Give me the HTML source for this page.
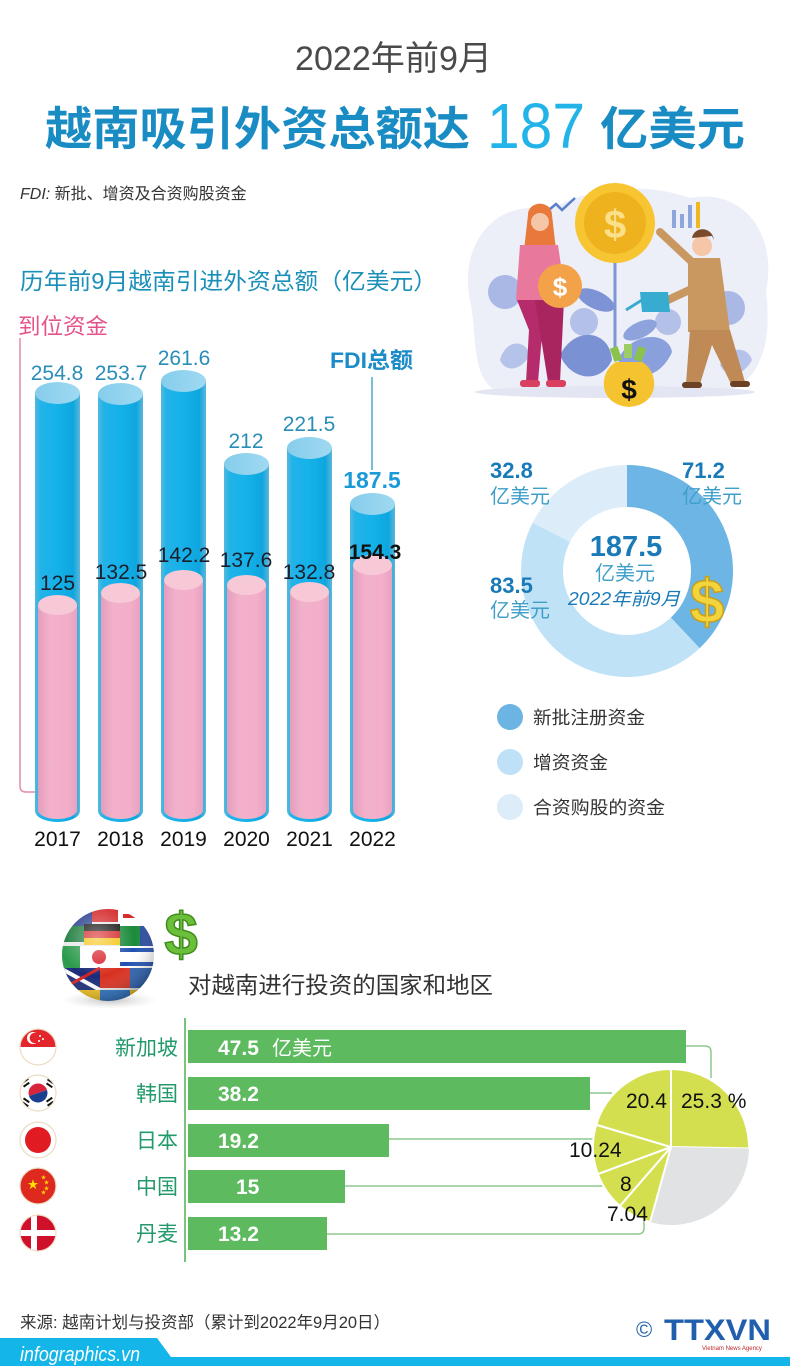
<!DOCTYPE html>
<html><head><meta charset="utf-8"><style>
html,body{margin:0;padding:0;background:#fff;}
svg{display:block;}
text{font-family:"Liberation Sans","Noto Sans CJK SC",sans-serif;}
.cn{font-family:"Liberation Sans","Noto Sans CJK SC",sans-serif;}
.nar{font-family:"Liberation Sans Narrow","Liberation Sans","Noto Sans CJK SC",sans-serif;}
</style></head><body>
<svg width="790" height="1366" viewBox="0 0 790 1366" xmlns="http://www.w3.org/2000/svg">
<defs>
<linearGradient id="gb" x1="0" x2="1" y1="0" y2="0">
<stop offset="0" stop-color="#54b9de"/><stop offset="0.12" stop-color="#22b3e8"/><stop offset="0.5" stop-color="#14b2ea"/><stop offset="0.85" stop-color="#0ea6de"/><stop offset="1" stop-color="#5cb6da"/>
</linearGradient>
<linearGradient id="gbt" x1="0" x2="1"><stop offset="0" stop-color="#86cdec"/><stop offset="1" stop-color="#9fd9f1"/></linearGradient>
<linearGradient id="gp" x1="0" x2="1"><stop offset="0" stop-color="#e39dbd"/><stop offset="0.3" stop-color="#f2b1ca"/><stop offset="0.75" stop-color="#f3aeca"/><stop offset="1" stop-color="#e8a2c1"/></linearGradient>
<radialGradient id="globeSh" cx="0.38" cy="0.32" r="0.75"><stop offset="0" stop-color="#fff" stop-opacity="0.45"/><stop offset="0.55" stop-color="#fff" stop-opacity="0"/><stop offset="1" stop-color="#000" stop-opacity="0.35"/></radialGradient>
<radialGradient id="shadow" cx="0.5" cy="0.5" r="0.5"><stop offset="0" stop-color="#999" stop-opacity="0.6"/><stop offset="1" stop-color="#ccc" stop-opacity="0"/></radialGradient>
<clipPath id="cg"><circle cx="108" cy="955" r="46"/></clipPath>
<clipPath id="f1"><circle cx="38" cy="1047" r="18"/></clipPath>
<clipPath id="f2"><circle cx="38" cy="1093" r="18"/></clipPath>
<clipPath id="f3"><circle cx="38" cy="1140" r="18"/></clipPath>
<clipPath id="f4"><circle cx="38" cy="1186" r="18"/></clipPath>
<clipPath id="f5"><circle cx="38" cy="1233" r="18"/></clipPath>
</defs>

<rect width="790" height="1366" fill="#fff"/>

<!-- Titles -->
<text x="295" y="70" font-size="34" fill="#4a4a4a" textLength="197" lengthAdjust="spacingAndGlyphs">2022年前9月</text>
<text x="45" y="145" font-size="46" font-weight="bold" fill="#1a8cc4" textLength="425" lengthAdjust="spacingAndGlyphs">越南吸引外资总额达</text>
<text x="487" y="148" font-size="64" fill="#22b4e8" textLength="98" lengthAdjust="spacingAndGlyphs">187</text>
<text x="600" y="145" font-size="46" font-weight="bold" fill="#1a8cc4" textLength="145" lengthAdjust="spacingAndGlyphs">亿美元</text>
<text x="20" y="199" font-size="16" fill="#333"><tspan font-style="italic">FDI:</tspan> 新批、增资及合资购股资金</text>

<!-- Illustration -->
<g>
<path d="M470,300 C458,240 500,198 548,210 C585,190 640,180 690,198 C742,188 778,232 766,292 C772,342 762,382 722,394 L502,394 C470,382 478,340 470,300 Z" fill="#eceef8"/>
<ellipse cx="615" cy="392" rx="140" ry="6" fill="#e3e6f2"/>
<circle cx="505" cy="292" r="17" fill="#a9b8e4"/>
<circle cx="584" cy="322" r="14" fill="#b3c0e8"/>
<circle cx="668" cy="322" r="13" fill="#b3c0e8"/>
<circle cx="728" cy="308" r="17" fill="#a9b8e4"/>
<path d="M560,355 C575,325 610,330 612,360 C600,385 570,380 560,355 Z" fill="#7a91d4"/>
<path d="M618,360 C630,332 668,330 672,352 C660,380 630,384 618,360 Z" fill="#8aa0dc"/>
<ellipse cx="596" cy="300" rx="20" ry="9" transform="rotate(25 596 300)" fill="#7d93d5"/>
<ellipse cx="640" cy="330" rx="18" ry="8" transform="rotate(-25 640 330)" fill="#8ea2dc"/>
<path d="M500,360 C505,340 525,338 530,355 C520,372 505,372 500,360 Z" fill="#b5c2ea"/>
<path d="M720,365 C728,345 748,346 752,360 C742,378 726,378 720,365 Z" fill="#b5c2ea"/>
<line x1="615" y1="262" x2="615" y2="360" stroke="#7f96d6" stroke-width="3"/>
<circle cx="615" cy="223" r="40" fill="#f7c531"/>
<circle cx="615" cy="223" r="31" fill="#efb21f"/>
<text x="615" y="238" font-size="40" font-weight="bold" fill="#fbe08a" text-anchor="middle">$</text>
<polyline points="544,214 556,204 562,210 575,198" fill="none" stroke="#5b7fc8" stroke-width="2.5"/>
<rect x="672" y="210" width="4" height="18" fill="#8ea6dc"/><rect x="680" y="214" width="4" height="14" fill="#8ea6dc"/><rect x="688" y="205" width="4" height="23" fill="#8ea6dc"/><rect x="696" y="202" width="4" height="26" fill="#f0b820"/>
<!-- woman -->
<path d="M528,215 C528,200 552,200 552,215 L556,250 L524,250 Z" fill="#e8793a"/>
<circle cx="540" cy="222" r="9" fill="#f6c6a8"/>
<path d="M520,245 L558,245 L566,300 L516,300 Z" fill="#e9789d"/>
<path d="M517,300 L545,300 L538,382 L526,382 L529,330 Z" fill="#b52b6b"/>
<path d="M535,300 L564,300 L560,382 L548,382 Z" fill="#a8255f"/>
<rect x="520" y="380" width="20" height="7" rx="3" fill="#d94060"/>
<rect x="546" y="380" width="20" height="7" rx="3" fill="#d94060"/>
<circle cx="560" cy="286" r="22" fill="#f4a24a"/>
<text x="560" y="296" font-size="26" font-weight="bold" fill="#fff" text-anchor="middle">$</text>
<!-- man -->
<circle cx="702" cy="246" r="10" fill="#f6c6a8"/>
<path d="M692,238 C694,226 712,226 714,240 L712,236 Z" fill="#7a4a2a"/>
<path d="M688,258 L720,258 L730,332 L688,332 Z" fill="#c99760"/>
<line x1="692" y1="262" x2="660" y2="232" stroke="#c99760" stroke-width="8" stroke-linecap="round"/>
<line x1="700" y1="285" x2="668" y2="300" stroke="#c99760" stroke-width="8" stroke-linecap="round"/>
<path d="M690,330 L730,330 L745,382 L732,386 L712,345 L700,384 L686,384 Z" fill="#bf8a55"/>
<rect x="682" y="382" width="20" height="6" rx="3" fill="#6b4226"/>
<rect x="730" y="381" width="20" height="6" rx="3" fill="#6b4226"/>
<path d="M640,292 L668,292 L670,312 L642,312 Z" fill="#38acd0"/>
<line x1="642" y1="300" x2="626" y2="310" stroke="#38acd0" stroke-width="3"/>
<!-- money bag -->
<rect x="612" y="347" width="8" height="14" fill="#8bc34a" transform="rotate(-20 616 354)"/>
<rect x="624" y="344" width="8" height="14" fill="#9ccc65"/>
<rect x="636" y="347" width="8" height="14" fill="#8bc34a" transform="rotate(20 640 354)"/>
<path d="M616,362 L642,362 C660,372 660,405 629,407 C598,405 598,372 616,362 Z" fill="#f5c330"/>
<text x="629" y="399" font-size="28" font-weight="bold" fill="#111" text-anchor="middle">$</text>
</g>

<!-- Bar chart title -->
<text x="20" y="289" font-size="23" fill="#1a8fb8" textLength="417" lengthAdjust="spacingAndGlyphs">历年前9月越南引进外资总额（亿美元）</text>
<text x="18" y="334" font-size="22" fill="#e6528a" textLength="90" lengthAdjust="spacingAndGlyphs">到位资金</text>
<path d="M20,338 L20,786 Q20,792 26,792 L57,792" fill="none" stroke="#e48aae" stroke-width="1.5"/>
<text x="330" y="368" font-size="22" font-weight="bold" fill="#1c8cc8" textLength="83" lengthAdjust="spacingAndGlyphs">FDI总额</text>
<line x1="372" y1="377" x2="372" y2="470" stroke="#4aa9c8" stroke-width="1.5"/>

<!-- Cylinders -->
<g>
<!-- 2017 -->
<rect x="35" y="393" width="45" height="418" fill="url(#gb)"/><ellipse cx="57.5" cy="811" rx="22.5" ry="11" fill="url(#gb)"/><ellipse cx="57.5" cy="393" rx="22.5" ry="11" fill="url(#gbt)"/>
<rect x="38" y="605" width="39" height="205" fill="url(#gp)"/><ellipse cx="57.5" cy="810" rx="19.5" ry="9" fill="url(#gp)"/><ellipse cx="57.5" cy="605" rx="19.5" ry="10" fill="#f7c8d6"/>
<!-- 2018 -->
<rect x="98" y="394" width="45" height="417" fill="url(#gb)"/><ellipse cx="120.5" cy="811" rx="22.5" ry="11" fill="url(#gb)"/><ellipse cx="120.5" cy="394" rx="22.5" ry="11" fill="url(#gbt)"/>
<rect x="101" y="593" width="39" height="217" fill="url(#gp)"/><ellipse cx="120.5" cy="810" rx="19.5" ry="9" fill="url(#gp)"/><ellipse cx="120.5" cy="593" rx="19.5" ry="10" fill="#f7c8d6"/>
<!-- 2019 -->
<rect x="161" y="381" width="45" height="430" fill="url(#gb)"/><ellipse cx="183.5" cy="811" rx="22.5" ry="11" fill="url(#gb)"/><ellipse cx="183.5" cy="381" rx="22.5" ry="11" fill="url(#gbt)"/>
<rect x="164" y="580" width="39" height="230" fill="url(#gp)"/><ellipse cx="183.5" cy="810" rx="19.5" ry="9" fill="url(#gp)"/><ellipse cx="183.5" cy="580" rx="19.5" ry="10" fill="#f7c8d6"/>
<!-- 2020 -->
<rect x="224" y="464" width="45" height="347" fill="url(#gb)"/><ellipse cx="246.5" cy="811" rx="22.5" ry="11" fill="url(#gb)"/><ellipse cx="246.5" cy="464" rx="22.5" ry="11" fill="url(#gbt)"/>
<rect x="227" y="585" width="39" height="225" fill="url(#gp)"/><ellipse cx="246.5" cy="810" rx="19.5" ry="9" fill="url(#gp)"/><ellipse cx="246.5" cy="585" rx="19.5" ry="10" fill="#f7c8d6"/>
<!-- 2021 -->
<rect x="287" y="448" width="45" height="363" fill="url(#gb)"/><ellipse cx="309.5" cy="811" rx="22.5" ry="11" fill="url(#gb)"/><ellipse cx="309.5" cy="448" rx="22.5" ry="11" fill="url(#gbt)"/>
<rect x="290" y="592" width="39" height="218" fill="url(#gp)"/><ellipse cx="309.5" cy="810" rx="19.5" ry="9" fill="url(#gp)"/><ellipse cx="309.5" cy="592" rx="19.5" ry="10" fill="#f7c8d6"/>
<!-- 2022 -->
<rect x="350" y="504" width="45" height="307" fill="url(#gb)"/><ellipse cx="372.5" cy="811" rx="22.5" ry="11" fill="url(#gb)"/><ellipse cx="372.5" cy="504" rx="22.5" ry="11" fill="url(#gbt)"/>
<rect x="353" y="565" width="39" height="245" fill="url(#gp)"/><ellipse cx="372.5" cy="810" rx="19.5" ry="9" fill="url(#gp)"/><ellipse cx="372.5" cy="565" rx="19.5" ry="10" fill="#f7c8d6"/>
</g>
<g font-size="21" fill="#2a8db8" text-anchor="middle">
<text x="57" y="380">254.8</text>
<text x="121" y="380">253.7</text>
<text x="184" y="365">261.6</text>
<text x="246" y="448">212</text>
<text x="309" y="431">221.5</text>
<text x="372" y="488" font-size="23" font-weight="bold" fill="#1b9ad8">187.5</text>
</g>
<g font-size="21" fill="#1d1d2a" text-anchor="middle">
<text x="57.5" y="590">125</text>
<text x="121" y="579">132.5</text>
<text x="184" y="562">142.2</text>
<text x="246" y="567">137.6</text>
<text x="309" y="579">132.8</text>
<text x="375" y="559" font-weight="bold" fill="#111">154.3</text>
</g>
<g font-size="21" fill="#111" text-anchor="middle">
<text x="57.5" y="846">2017</text><text x="120.5" y="846">2018</text><text x="183.5" y="846">2019</text><text x="246.5" y="846">2020</text><text x="309.5" y="846">2021</text><text x="372.5" y="846">2022</text>
</g>

<!-- Donut -->
<g transform="rotate(-90 627 571)" fill="none" stroke-width="42">
<circle cx="627" cy="571" r="85" stroke="#6db5e5" stroke-dasharray="202.8 331.27"/>
<circle cx="627" cy="571" r="85" stroke="#bfe2f7" stroke-dasharray="237.8 296.27" stroke-dashoffset="-202.8"/>
<circle cx="627" cy="571" r="85" stroke="#dcedf9" stroke-dasharray="93.47 440.6" stroke-dashoffset="-440.6"/>
</g>
<text x="490" y="478" font-size="22" font-weight="bold" fill="#1a7ab8">32.8</text>
<text x="490" y="503" font-size="20" fill="#3f9fc8">亿美元</text>
<text x="682" y="478" font-size="22" font-weight="bold" fill="#1a7ab8">71.2</text>
<text x="682" y="503" font-size="20" fill="#3f9fc8">亿美元</text>
<text x="490" y="593" font-size="22" font-weight="bold" fill="#1a7ab8">83.5</text>
<text x="490" y="617" font-size="20" fill="#3f9fc8">亿美元</text>
<text x="626" y="556" font-size="29" font-weight="bold" fill="#1a7ab8" text-anchor="middle">187.5</text>
<text x="625" y="580" font-size="20" fill="#3f9fc8" text-anchor="middle">亿美元</text>
<text x="624" y="605" font-size="18" font-style="italic" fill="#1a7ab8" text-anchor="middle" textLength="112" lengthAdjust="spacingAndGlyphs">2022年前9月</text>
<text x="707" y="623" font-size="62" font-weight="bold" fill="#f3d43c" stroke="#c9a018" stroke-width="1.5" text-anchor="middle">$</text>

<!-- Legend -->
<circle cx="510" cy="717" r="13" fill="#6cb4e4"/>
<circle cx="510" cy="762" r="13" fill="#bfe1f7"/>
<circle cx="510" cy="807" r="13" fill="#dcecf8"/>
<text x="533" y="724" font-size="18" fill="#333" textLength="112" lengthAdjust="spacingAndGlyphs">新批注册资金</text>
<text x="533" y="769" font-size="18" fill="#333" textLength="75" lengthAdjust="spacingAndGlyphs">增资资金</text>
<text x="533" y="814" font-size="18" fill="#333" textLength="132" lengthAdjust="spacingAndGlyphs">合资购股的资金</text>

<!-- Globe -->
<ellipse cx="110" cy="1000" rx="48" ry="9" fill="url(#shadow)"/>
<g clip-path="url(#cg)">
<rect x="60" y="905" width="100" height="100" fill="#e8e8e8"/>
<rect x="62" y="908" width="30" height="18" fill="#2a3f8f"/><rect x="92" y="906" width="26" height="16" fill="#d42a2a"/><rect x="118" y="908" width="30" height="18" fill="#fff"/><rect x="123" y="914" width="18" height="4" fill="#d42a2a"/>
<rect x="60" y="926" width="24" height="16" fill="#1a7a3a"/><rect x="84" y="924" width="36" height="7" fill="#111"/><rect x="84" y="931" width="36" height="7" fill="#d42020"/><rect x="84" y="938" width="36" height="7" fill="#f4c20d"/><rect x="120" y="926" width="20" height="20" fill="#1a8a3a"/><rect x="140" y="926" width="22" height="20" fill="#2a4aa0"/>
<rect x="60" y="946" width="20" height="22" fill="#2a9a4a"/><rect x="80" y="946" width="40" height="22" fill="#fff"/><circle cx="99" cy="957" r="7" fill="#d8202a"/><rect x="120" y="946" width="42" height="22" fill="#fff"/><rect x="120" y="948" width="42" height="4" fill="#2050b0"/><rect x="120" y="962" width="42" height="4" fill="#2050b0"/>
<rect x="60" y="968" width="40" height="22" fill="#1a2a7a"/><line x1="60" y1="968" x2="100" y2="990" stroke="#fff" stroke-width="4"/><line x1="100" y1="968" x2="60" y2="990" stroke="#d42020" stroke-width="3"/><rect x="100" y="968" width="30" height="20" fill="#d83020"/><rect x="130" y="968" width="32" height="20" fill="#2a60b0"/>
<rect x="60" y="990" width="100" height="15" fill="#f0c020"/><rect x="100" y="990" width="30" height="15" fill="#2a70c0"/>
<circle cx="108" cy="955" r="46" fill="url(#globeSh)"/>
</g>
<text x="181" y="955" font-size="60" font-weight="bold" fill="#6cbf3a" stroke="#3f8e1c" stroke-width="1.5" text-anchor="middle">$</text>
<text x="188" y="993" font-size="23" fill="#333" textLength="305" lengthAdjust="spacingAndGlyphs">对越南进行投资的国家和地区</text>

<!-- Connector lines -->
<g fill="none" stroke="#8dc98d" stroke-width="1.5">
<path d="M686,1046 L705,1046 Q711,1046 711,1052 L711,1078"/>
<line x1="590" y1="1093" x2="612" y2="1093"/>
<line x1="389" y1="1139" x2="600" y2="1139"/>
<line x1="345" y1="1186" x2="605" y2="1186"/>
<path d="M327,1234 L638,1234 Q644,1234 644,1228 L644,1220"/>
</g>
<line x1="185" y1="1018" x2="185" y2="1262" stroke="#7cc47c" stroke-width="2"/>

<!-- Bars -->
<g fill="#5dba5f">
<rect x="188" y="1030" width="498" height="33"/>
<rect x="188" y="1077" width="402" height="33"/>
<rect x="188" y="1124" width="201" height="33"/>
<rect x="188" y="1170" width="157" height="33"/>
<rect x="188" y="1217" width="139" height="33"/>
</g>
<g font-size="21" font-weight="bold" fill="#fff" class="nar">
<text x="218" y="1055">47.5</text>
<text x="218" y="1101">38.2</text>
<text x="218" y="1148">19.2</text>
<text x="236" y="1194">15</text>
<text x="218" y="1241">13.2</text>
</g>
<text x="272" y="1055" font-size="20" fill="#fff">亿美元</text>
<g font-size="21" fill="#239a6b" text-anchor="end">
<text x="178" y="1055">新加坡</text>
<text x="178" y="1101">韩国</text>
<text x="178" y="1148">日本</text>
<text x="178" y="1194">中国</text>
<text x="178" y="1241">丹麦</text>
</g>

<!-- Flags -->
<g clip-path="url(#f1)"><rect x="18" y="1027" width="40" height="40" fill="#fff"/><rect x="18" y="1027" width="40" height="20" fill="#e3262c"/><circle cx="33" cy="1038" r="6" fill="#fff"/><circle cx="35" cy="1038" r="5.3" fill="#e3262c"/><circle cx="40" cy="1036" r="1" fill="#fff"/><circle cx="43" cy="1039" r="1" fill="#fff"/><circle cx="39" cy="1041" r="1" fill="#fff"/></g>
<circle cx="38" cy="1047" r="18" fill="none" stroke="#ecdcc4" stroke-width="1.2"/>
<g clip-path="url(#f2)"><rect x="18" y="1073" width="40" height="40" fill="#fff"/><path d="M29,1096 A9,9 0 0 1 47,1090 Z" fill="#d8243a"/><path d="M29,1096 A9,9 0 0 0 47,1090 Z" fill="#1a3f8f"/><rect x="22" y="1080" width="7" height="2" fill="#111" transform="rotate(-35 25 1081)"/><rect x="23" y="1084" width="7" height="2" fill="#111" transform="rotate(-35 26 1085)"/><rect x="47" y="1080" width="7" height="2" fill="#111" transform="rotate(35 50 1081)"/><rect x="46" y="1084" width="7" height="2" fill="#111" transform="rotate(35 49 1085)"/><rect x="22" y="1103" width="7" height="2" fill="#111" transform="rotate(35 25 1104)"/><rect x="23" y="1099" width="7" height="2" fill="#111" transform="rotate(35 26 1100)"/><rect x="47" y="1103" width="7" height="2" fill="#111" transform="rotate(-35 50 1104)"/><rect x="46" y="1099" width="7" height="2" fill="#111" transform="rotate(-35 49 1100)"/></g>
<circle cx="38" cy="1093" r="18" fill="none" stroke="#ecdcc4" stroke-width="1.2"/>
<g clip-path="url(#f3)"><rect x="18" y="1120" width="40" height="40" fill="#fff"/><circle cx="38" cy="1140" r="13" fill="#e11b22"/></g>
<circle cx="38" cy="1140" r="18" fill="none" stroke="#ecdcc4" stroke-width="1.2"/>
<g clip-path="url(#f4)"><rect x="18" y="1166" width="40" height="40" fill="#de2a1e"/><text x="33" y="1188" font-size="11" fill="#ffde00" text-anchor="middle">★</text><text x="41" y="1179" font-size="5" fill="#ffde00">★</text><text x="44" y="1184" font-size="5" fill="#ffde00">★</text><text x="44" y="1190" font-size="5" fill="#ffde00">★</text><text x="41" y="1194" font-size="5" fill="#ffde00">★</text></g>
<circle cx="38" cy="1186" r="18" fill="none" stroke="#ecdcc4" stroke-width="1.2"/>
<g clip-path="url(#f5)"><rect x="18" y="1213" width="40" height="40" fill="#d0102a"/><rect x="18" y="1230" width="40" height="6" fill="#fff"/><rect x="31" y="1213" width="6" height="40" fill="#fff"/></g>
<circle cx="38" cy="1233" r="18" fill="none" stroke="#ecdcc4" stroke-width="1.2"/>

<!-- Pie -->
<g stroke="#fff" stroke-width="2" stroke-linejoin="round">
<path d="M671,1147 L671,1069 A78,78 0 0 1 748.99,1148.47 Z" fill="#d4df4f"/>
<path d="M671,1147 L748.99,1148.47 A78,78 0 0 1 650.09,1222.15 Z" fill="#e1e2e4" stroke="none"/>
<path d="M671,1147 L650.09,1222.15 A78,78 0 0 1 619.93,1205.96 Z" fill="#d4df4f"/>
<path d="M671,1147 L619.93,1205.96 A78,78 0 0 1 597.84,1174.06 Z" fill="#d4df4f"/>
<path d="M671,1147 L597.84,1174.06 A78,78 0 0 1 596.24,1124.77 Z" fill="#d4df4f"/>
<path d="M671,1147 L596.24,1124.77 A78,78 0 0 1 671,1069 Z" fill="#d4df4f"/>
</g>
<g font-size="21" fill="#111" class="nar">
<text x="626" y="1108">20.4</text>
<text x="681" y="1108">25.3 %</text>
<text x="569" y="1157">10.24</text>
<text x="620" y="1191">8</text>
<text x="607" y="1221">7.04</text>
</g>

<!-- Footer -->
<text x="20" y="1328" font-size="16.5" fill="#333" textLength="370" lengthAdjust="spacingAndGlyphs">来源: 越南计划与投资部（累计到2022年9月20日）</text>
<path d="M0,1338 L157,1338 L171,1357 L790,1357 L790,1366 L0,1366 Z" fill="#14b5e8"/>
<text x="20" y="1361" font-size="20" font-style="italic" fill="#fff" textLength="120" lengthAdjust="spacingAndGlyphs">infographics.vn</text>
<text x="636" y="1337" font-size="22" fill="#1f5fae">©</text>
<text x="664" y="1340" font-size="30" font-weight="bold" fill="#1f5fae" textLength="107" lengthAdjust="spacingAndGlyphs">TTXVN</text>
<text x="702" y="1350" font-size="6" fill="#c0282a">Vietnam News Agency</text>
</svg>
</body></html>
